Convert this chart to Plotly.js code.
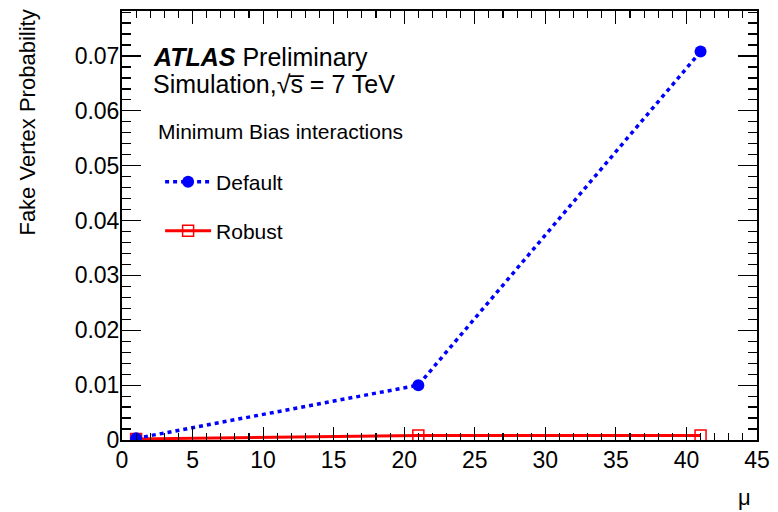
<!DOCTYPE html>
<html>
<head>
<meta charset="utf-8">
<script src="https://cdn.plot.ly/plotly-3.0.1.min.js"></script>
<style>html,body{margin:0;padding:0;background:#fff;}#chart{width:778px;height:512px;}</style>
</head>
<body>
<div id="chart"></div>
<script>
const mu = [1, 21, 41];
const defaultProb = [0.0003, 0.0100, 0.0708];
const robustProb = [0.0002, 0.0008, 0.0008];
const seriesNames = ["Default", "Robust"];
const legendHeader = "Minimum Bias interactions";
const xTitle = "μ";
const yTitle = "Fake Vertex Probability";

const FONT = "Liberation Sans, Arial, Helvetica, sans-serif";

const traces = [
  {
    x: mu, y: robustProb, name: seriesNames[1], type: "scatter", mode: "lines+markers",
    line: {color: "rgb(255,0,0)", width: 3},
    marker: {symbol: "square-open", size: 11, color: "rgb(255,0,0)", line: {width: 1.5, color: "rgb(255,0,0)"}},
    legend: "legend2"
  },
  {
    x: mu, y: defaultProb, name: seriesNames[0], type: "scatter", mode: "lines+markers",
    line: {color: "rgb(0,0,255)", width: 3.5, dash: "4px,4px"},
    marker: {symbol: "circle", size: 12, color: "rgb(0,0,255)"},
    legend: "legend"
  }
];

const axisCommon = {
  showline: true, linecolor: "black", linewidth: 2, mirror: "allticks",
  ticks: "inside", tickcolor: "black", tickwidth: 1.2,
  showgrid: false, zeroline: false,
  tickfont: {family: FONT, size: 23, color: "black"}
};

const layout = {
  width: 778, height: 512,
  margin: {l: 122, r: 21, t: 11, b: 72},
  paper_bgcolor: "white", plot_bgcolor: "white",
  showlegend: true,
  xaxis: Object.assign({}, axisCommon, {
    range: [0, 45], dtick: 5, tick0: 0, ticklen: 13, ticklabelstandoff: -2,
    minor: {dtick: 1, ticklen: 7, ticks: "inside", tickcolor: "black", tickwidth: 1.2}
  }),
  yaxis: Object.assign({}, axisCommon, {
    range: [0, 0.0782], dtick: 0.01, tick0: 0, ticklen: 19, ticklabelstandoff: -4,
    minor: {dtick: 0.002, ticklen: 9, ticks: "inside", tickcolor: "black", tickwidth: 1.2}
  }),
  legend: {
    x: 0.06, y: 0.601, xanchor: "left", yanchor: "middle",
    bgcolor: "rgba(0,0,0,0)", itemwidth: 46,
    font: {family: FONT, size: 21, color: "black"}
  },
  legend2: {
    x: 0.06, y: 0.487, xanchor: "left", yanchor: "middle",
    bgcolor: "rgba(0,0,0,0)", itemwidth: 46,
    font: {family: FONT, size: 21, color: "black"}
  },
  annotations: [
    {xref: "paper", yref: "paper", x: 0.046, y: 0.893, xanchor: "left", yanchor: "middle", showarrow: false,
     text: "<b><i>ATLAS</i></b> Preliminary", font: {family: FONT, size: 25, color: "black"}},
    {xref: "paper", yref: "paper", x: 0.046, y: 0.830, xanchor: "left", yanchor: "middle", showarrow: false,
     text: "Simulation,√s\u0305 = 7 TeV", font: {family: FONT, size: 25, color: "black"}},
    {xref: "paper", yref: "paper", x: 0.054, y: 0.718, xanchor: "left", yanchor: "middle", showarrow: false,
     text: legendHeader, font: {family: FONT, size: 21, color: "black"}},
    {xref: "paper", yref: "paper", x: 0.981, y: -0.133, xanchor: "center", yanchor: "middle", showarrow: false,
     text: xTitle, font: {family: FONT, size: 22, color: "black"}},
    {xref: "paper", yref: "paper", x: -0.148, y: 0.74, xanchor: "center", yanchor: "middle", showarrow: false,
     textangle: -90, text: yTitle, font: {family: FONT, size: 22, color: "black"}}
  ]
};

Plotly.newPlot("chart", traces, layout, {displayModeBar: false, staticPlot: true});
</script>
</body>
</html>
